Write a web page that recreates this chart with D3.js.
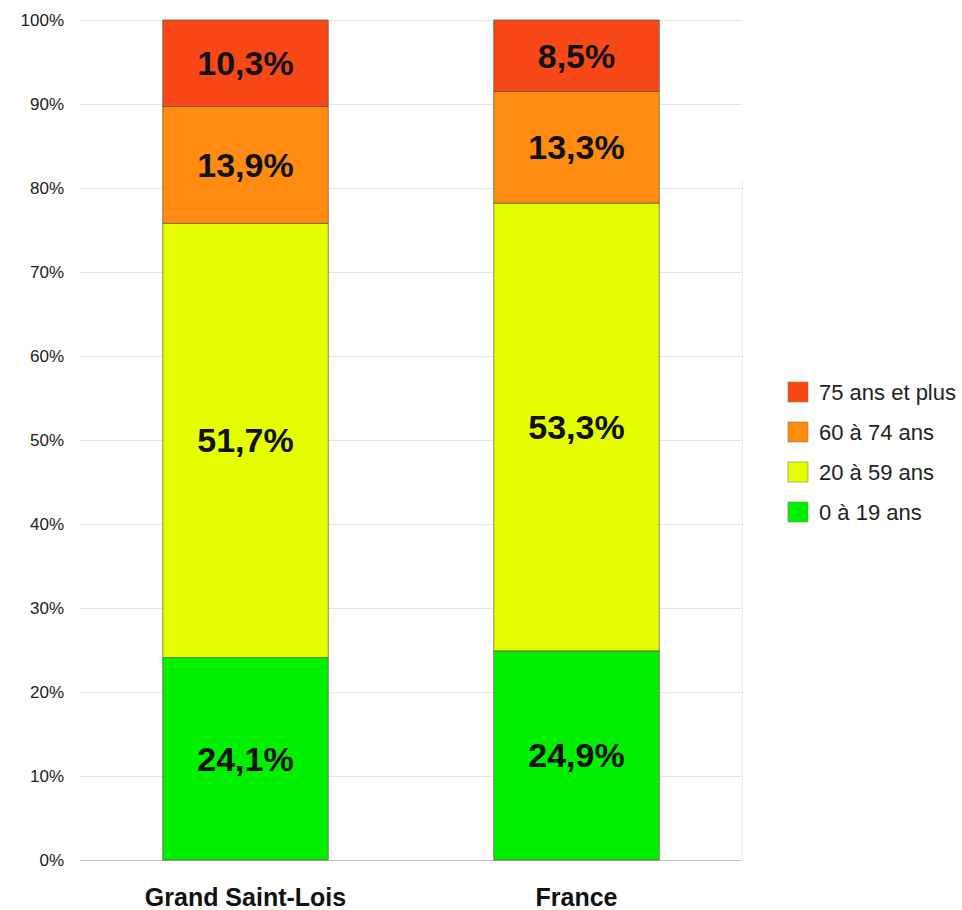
<!DOCTYPE html>
<html>
<head>
<meta charset="utf-8">
<script src="https://cdn.jsdelivr.net/npm/d3@7"></script>
<style>
  body { margin: 0; background: #fff; }
  svg { font-family: 'Liberation Sans', Arial, sans-serif; }
</style>
</head>
<body>
<div id="chart"></div>
<script>
'use strict'

const WIDTH = 962
const HEIGHT = 910

const territories = ['Grand Saint-Lois', 'France']
const ageGroups = ['0 à 19 ans', '20 à 59 ans', '60 à 74 ans', '75 ans et plus']
const grandSaintLois = [24.1, 51.7, 13.9, 10.3]
const france = [24.9, 53.3, 13.3, 8.5]
const yTicks = [0, 10, 20, 30, 40, 50, 60, 70, 80, 90, 100]
const colors = ['#00f000', '#e6ff00', '#ff8c10', '#f84818']

const plot = { left: 80, right: 742, top: 20, bottom: 860 }

function formatPct (v) {
  return v.toFixed(1).replace('.', ',') + '%'
}

function main () {
  const svg = d3.select('#chart')
    .append('svg')
    .attr('width', WIDTH)
    .attr('height', HEIGHT)

  const x = d3.scaleBand()
    .domain(territories)
    .range([plot.left, plot.right])
    .paddingInner(0.5)
    .paddingOuter(0.25)

  const y = d3.scaleLinear()
    .domain([0, 100])
    .range([plot.bottom, plot.top])

  // gridlines
  svg.append('g')
    .selectAll('line')
    .data(yTicks)
    .enter()
    .append('line')
    .attr('x1', plot.left)
    .attr('x2', plot.right)
    .attr('y1', (d) => y(d) + 0.5)
    .attr('y2', (d) => y(d) + 0.5)
    .attr('stroke', (d) => d === 0 ? '#c4c4c4' : '#e4e4e4')
    .attr('stroke-width', 1)

  svg.append('line')
    .attr('x1', plot.right + 0.5)
    .attr('x2', plot.right + 0.5)
    .attr('y1', y(81))
    .attr('y2', y(0))
    .attr('stroke', '#ececec')

  // y axis labels
  const yAxis = svg.append('g')
    .attr('transform', `translate(${plot.left - 16},0)`)
    .call(d3.axisLeft(y).tickValues(yTicks).tickSize(0).tickFormat((d) => d + '%'))
  yAxis.select('.domain').remove()
  yAxis.selectAll('text')
    .attr('x', 0)
    .attr('fill', '#222')
    .style('font-size', '17px')
    .style('font-family', "'Liberation Sans', Arial, sans-serif")

  // x axis labels
  const xAxis = svg.append('g')
    .attr('transform', `translate(0,${plot.bottom})`)
    .call(d3.axisBottom(x).tickSize(0))
  xAxis.select('.domain').remove()
  xAxis.selectAll('text')
    .attr('y', 28)
    .attr('fill', '#111')
    .style('font-size', '25px')
    .style('font-weight', 'bold')
    .style('font-family', "'Liberation Sans', Arial, sans-serif")

  // stacked bars
  const rows = territories.map((name, i) => {
    const vals = i === 0 ? grandSaintLois : france
    const row = { name: name }
    ageGroups.forEach((g, j) => { row[g] = vals[j] })
    return row
  })
  const series = d3.stack().keys(ageGroups)(rows)

  const layers = svg.append('g')
    .selectAll('g')
    .data(series)
    .enter()
    .append('g')
    .attr('fill', (d, i) => colors[i])

  layers.selectAll('rect')
    .data((d) => d)
    .enter()
    .append('rect')
    .attr('x', (d) => x(d.data.name))
    .attr('width', x.bandwidth())
    .attr('y', (d) => y(d[1]))
    .attr('height', (d) => y(d[0]) - y(d[1]))
    .attr('stroke', '#5a5a3a')
    .attr('stroke-opacity', 0.7)
    .attr('stroke-width', 1)

  layers.selectAll('text')
    .data((d) => d)
    .enter()
    .append('text')
    .attr('x', (d) => x(d.data.name) + x.bandwidth() / 2)
    .attr('y', (d) => y((d[0] + d[1]) / 2))
    .attr('text-anchor', 'middle')
    .attr('dominant-baseline', 'central')
    .attr('fill', '#111')
    .style('font-size', '34px')
    .style('font-weight', 'bold')
    .text((d) => formatPct(d[1] - d[0]))

  // legend
  const legend = svg.append('g')
    .attr('transform', 'translate(788,382)')
  const legendItems = ageGroups.map((g, i) => ({ label: g, color: colors[i] })).reverse()
  const item = legend.selectAll('g')
    .data(legendItems)
    .enter()
    .append('g')
    .attr('transform', (d, i) => `translate(0,${i * 40})`)
  item.append('rect')
    .attr('width', 20)
    .attr('height', 20)
    .attr('fill', (d) => d.color)
    .attr('stroke', '#8a7a5a')
    .attr('stroke-opacity', 0.6)
  item.append('text')
    .attr('x', 31)
    .attr('y', 10)
    .attr('dominant-baseline', 'central')
    .attr('fill', '#222')
    .style('font-size', '22px')
    .text((d) => d.label)
}

main()
</script>
</body>
</html>
